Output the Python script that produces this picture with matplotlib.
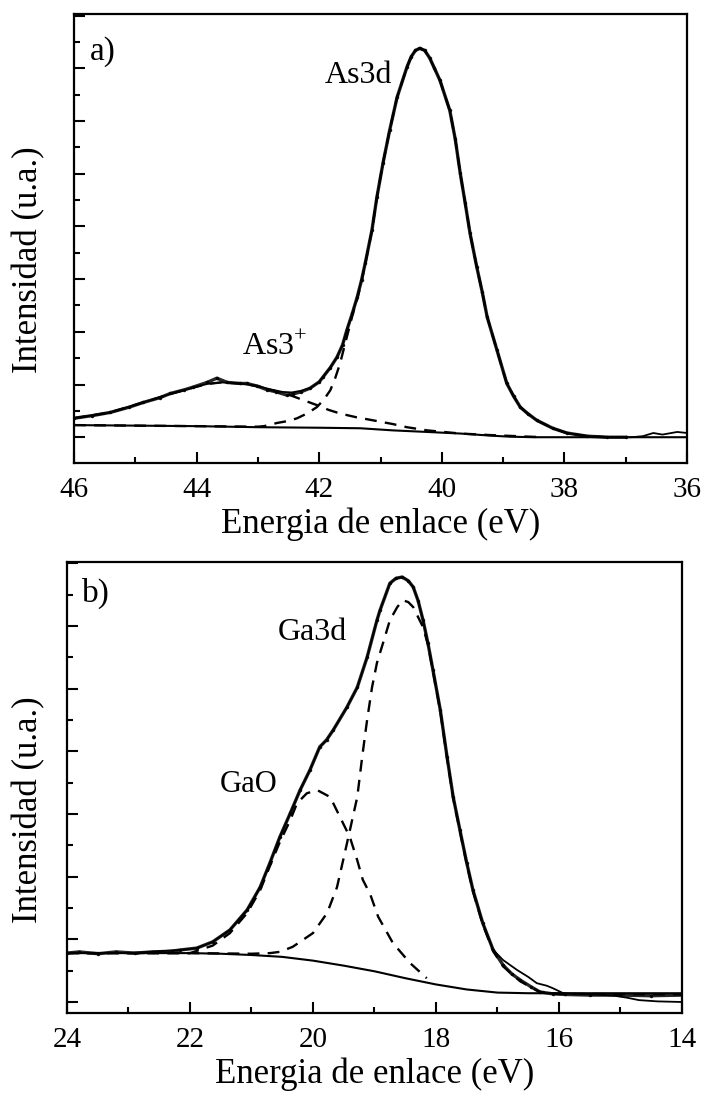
import matplotlib
matplotlib.use("Agg")
import matplotlib.pyplot as plt
from matplotlib.ticker import MultipleLocator, NullFormatter

plt.rcParams['font.family'] = ['Liberation Serif', 'DejaVu Serif']
plt.rcParams['mathtext.fontset'] = 'custom'
plt.rcParams['mathtext.rm'] = 'Liberation Serif'

# ---- panel a) As3d ----
as_data_x = [46.0, 45.7, 45.41, 45.1, 44.87, 44.6, 44.43, 44.2, 44.06, 43.83, 43.67, 43.5,
             43.29, 43.18, 43.01, 42.85, 42.7, 42.53, 42.43, 42.3, 42.15, 42.0, 41.94, 41.82,
             41.71, 41.62, 41.55, 41.46, 41.38, 41.31, 41.25, 41.14, 41.06, 40.96, 40.85, 40.73,
             40.57, 40.5, 40.43, 40.36, 40.28, 40.2, 40.12, 40.03, 39.87, 39.78, 39.7, 39.62,
             39.54, 39.43, 39.34, 39.26, 39.1, 38.94, 38.83, 38.72, 38.6, 38.45, 38.19, 37.96,
             37.63, 37.3, 37.0]
as_data_y = [0.36, 0.41, 0.47, 0.57, 0.66, 0.75, 0.83, 0.9, 0.95, 1.04, 1.12, 1.04,
             1.02, 1.02, 0.97, 0.9, 0.86, 0.8, 0.82, 0.86, 0.93, 1.05, 1.14, 1.32,
             1.52, 1.75, 2.03, 2.35, 2.66, 2.98, 3.3, 3.93, 4.55, 5.2, 5.83, 6.45,
             7.02, 7.22, 7.34, 7.38, 7.34, 7.2, 7.0, 6.77, 6.2, 5.65, 5.01, 4.45,
             3.87, 3.23, 2.75, 2.28, 1.65, 1.02, 0.78, 0.57, 0.45, 0.32, 0.17, 0.08,
             0.02, 0.0, 0.0]

as_fit_x = [46.0, 45.41, 44.87, 44.43, 44.06, 43.83, 43.6, 43.3, 43.0, 42.8, 42.6, 42.45,
            42.3, 42.15, 42.0, 41.9, 41.82, 41.71, 41.62, 41.55, 41.46, 41.38, 41.31, 41.25,
            41.14, 41.06, 40.96, 40.85, 40.73, 40.57, 40.5, 40.43, 40.36, 40.28, 40.2, 40.12,
            40.03, 39.87, 39.78, 39.7, 39.62, 39.54, 39.43, 39.34, 39.26, 39.1, 38.94, 38.83,
            38.72, 38.6, 38.45, 38.19, 37.96, 37.63, 37.2, 36.9, 36.72, 36.55, 36.4, 36.16, 36.0]
as_fit_y = [0.36, 0.47, 0.66, 0.82, 0.94, 1.01, 1.04, 1.02, 0.97, 0.91, 0.86, 0.85,
            0.88, 0.93, 1.05, 1.2, 1.32, 1.52, 1.75, 2.03, 2.35, 2.66, 2.98, 3.3,
            3.93, 4.55, 5.2, 5.83, 6.45, 7.02, 7.22, 7.34, 7.38, 7.34, 7.2, 7.0,
            6.77, 6.2, 5.65, 5.01, 4.45, 3.87, 3.23, 2.75, 2.28, 1.65, 1.02, 0.78,
            0.57, 0.45, 0.32, 0.17, 0.08, 0.02, 0.0, 0.0, 0.02, 0.08, 0.05, 0.1, 0.08]

as_bg_x = [46.0, 45.0, 44.0, 43.0, 42.0, 41.33, 40.8, 40.24, 39.7, 39.2, 38.89, 38.5, 36.0]
as_bg_y = [0.23, 0.22, 0.21, 0.19, 0.18, 0.17, 0.13, 0.10, 0.07, 0.03, 0.01, 0.0, 0.0]

as3d_x = [46.0, 44.0, 43.0, 42.9, 42.69, 42.5, 42.36, 42.2, 42.04, 41.92, 41.82, 41.74,
          41.66, 41.55, 41.45, 41.38, 41.31, 41.25, 41.14, 41.06, 40.96, 40.85, 40.73, 40.57,
          40.5, 40.43, 40.36, 40.28, 40.2, 40.12, 40.03, 39.87, 39.78, 39.7, 39.62, 39.54,
          39.43, 39.34, 39.26, 39.1, 38.94, 38.83, 38.72, 38.6, 38.45, 38.19, 37.96, 37.63, 37.3]
as3d_y = [0.23, 0.21, 0.2, 0.21, 0.27, 0.31, 0.36, 0.45, 0.57, 0.72, 0.89, 1.12,
          1.4, 1.9, 2.35, 2.62, 2.95, 3.28, 3.92, 4.55, 5.2, 5.83, 6.45, 7.02,
          7.22, 7.34, 7.38, 7.34, 7.2, 7.0, 6.77, 6.2, 5.65, 5.01, 4.45, 3.87,
          3.23, 2.75, 2.28, 1.65, 1.02, 0.78, 0.57, 0.45, 0.32, 0.17, 0.08, 0.02, 0.0]

as3p_x = [46.0, 45.41, 44.87, 44.43, 44.06, 43.83, 43.6, 43.3, 43.0, 42.8, 42.6, 42.48,
          42.25, 42.04, 41.85, 41.66, 41.4, 41.12, 40.8, 40.57, 40.24, 39.7, 39.2, 38.35]
as3p_y = [0.36, 0.47, 0.66, 0.82, 0.94, 1.01, 1.04, 1.02, 0.97, 0.9, 0.84, 0.8,
          0.7, 0.61, 0.52, 0.45, 0.38, 0.32, 0.25, 0.19, 0.13, 0.07, 0.04, 0.0]

# ---- panel b) Ga3d ----
ga_data_x = [24.0, 23.8, 23.5, 23.2, 22.9, 22.6, 22.3, 22.16, 21.89, 21.63, 21.35, 21.07,
             20.86, 20.7, 20.54, 20.37, 20.21, 20.05, 19.89, 19.78, 19.67, 19.45, 19.28, 19.12,
             18.96, 18.91, 18.75, 18.65, 18.55, 18.45, 18.37, 18.29, 18.21, 18.13, 18.05, 17.93,
             17.82, 17.72, 17.61, 17.5, 17.4, 17.24, 17.07, 16.91, 16.77, 16.63, 16.45, 16.31,
             16.1, 15.9, 15.5, 15.0, 14.5, 14.0]
ga_data_y = [0.78, 0.8, 0.77, 0.8, 0.78, 0.8, 0.81, 0.83, 0.86, 0.96, 1.15, 1.47,
             1.83, 2.22, 2.63, 3.01, 3.38, 3.7, 4.07, 4.18, 4.34, 4.7, 5.02, 5.5,
             6.09, 6.25, 6.68, 6.76, 6.78, 6.72, 6.62, 6.4, 6.09, 5.72, 5.3, 4.66,
             3.91, 3.27, 2.74, 2.22, 1.79, 1.26, 0.83, 0.59, 0.45, 0.35, 0.24, 0.16,
             0.13, 0.12, 0.11, 0.11, 0.1, 0.11]

ga_fit_x = [24.0, 23.0, 22.16, 21.89, 21.63, 21.35, 21.07, 20.86, 20.7, 20.54, 20.37, 20.21,
            20.05, 19.89, 19.78, 19.67, 19.45, 19.28, 19.12, 18.96, 18.91, 18.75, 18.65, 18.55,
            18.45, 18.37, 18.29, 18.21, 18.13, 18.05, 17.93, 17.82, 17.72, 17.61, 17.5, 17.4,
            17.24, 17.07, 16.91, 16.68, 16.5, 16.36, 16.2, 16.1, 15.93, 15.7, 15.4, 15.1,
            14.9, 14.7, 14.4, 14.0]
ga_fit_y = [0.78, 0.78, 0.83, 0.86, 0.96, 1.15, 1.47, 1.83, 2.22, 2.63, 3.01, 3.38,
            3.7, 4.07, 4.18, 4.34, 4.7, 5.02, 5.5, 6.09, 6.25, 6.68, 6.76, 6.78,
            6.72, 6.62, 6.4, 6.09, 5.72, 5.3, 4.66, 3.91, 3.27, 2.74, 2.22, 1.79,
            1.26, 0.83, 0.67, 0.51, 0.4, 0.3, 0.26, 0.22, 0.14, 0.13, 0.12, 0.1,
            0.07, 0.03, 0.01, 0.0]

ga_bg_x = [24.0, 22.0, 21.5, 21.0, 20.5, 20.0, 19.5, 19.0, 18.5, 18.0, 17.5, 17.0, 16.5, 14.0]
ga_bg_y = [0.78, 0.78, 0.77, 0.75, 0.72, 0.66, 0.58, 0.49, 0.38, 0.28, 0.2, 0.15, 0.14, 0.14]

ga3d_x = [24.0, 22.0, 21.0, 20.7, 20.54, 20.33, 20.0, 19.77, 19.61, 19.51, 19.4, 19.28,
          19.2, 19.12, 19.04, 18.96, 18.86, 18.75, 18.63, 18.54, 18.45, 18.37, 18.21, 18.13,
          18.05, 17.93, 17.82, 17.72, 17.61, 17.5, 17.4, 17.24, 17.07, 16.91, 16.63, 16.31,
          16.0, 14.0]
ga3d_y = [0.78, 0.78, 0.77, 0.78, 0.8, 0.88, 1.1, 1.42, 1.83, 2.26, 2.74, 3.27,
          3.91, 4.5, 5.02, 5.41, 5.73, 6.09, 6.3, 6.41, 6.38, 6.3, 5.98, 5.7,
          5.28, 4.64, 3.89, 3.25, 2.72, 2.2, 1.77, 1.24, 0.81, 0.57, 0.33, 0.16,
          0.13, 0.12]

gao_x = [24.0, 22.0, 21.63, 21.35, 21.07, 20.86, 20.7, 20.54, 20.37, 20.26, 20.1, 19.93,
         19.72, 19.56, 19.4, 19.28, 19.19, 19.07, 18.94, 18.7, 18.42, 18.15]
gao_y = [0.78, 0.78, 0.9, 1.1, 1.42, 1.78, 2.17, 2.55, 2.9, 3.17, 3.33, 3.38,
         3.27, 2.95, 2.63, 2.26, 1.95, 1.72, 1.36, 0.94, 0.62, 0.38]


fig = plt.figure(figsize=(7.11, 10.97), dpi=100)
ax1 = fig.add_axes([0.1041, 0.5779, 0.8622, 0.4093])
ax2 = fig.add_axes([0.0942, 0.0766, 0.865, 0.4111])


def style(ax, xlim, ylim):
    ax.set_xlim(*xlim)
    ax.set_ylim(*ylim)
    ax.xaxis.set_major_locator(MultipleLocator(2))
    ax.xaxis.set_minor_locator(MultipleLocator(1))
    ax.yaxis.set_major_locator(MultipleLocator(1))
    ax.yaxis.set_minor_locator(MultipleLocator(0.5))
    ax.yaxis.set_major_formatter(NullFormatter())
    ax.tick_params(which='both', direction='in', top=False, right=False, width=1.5)
    ax.tick_params(which='major', length=8, labelsize=21, pad=10)
    ax.tick_params(which='minor', length=4.5)
    for s in ax.spines.values():
        s.set_linewidth(1.6)
    ax.set_xlabel("Energia de enlace (eV)", fontsize=25, labelpad=3)
    ax.set_ylabel("Intensidad (u.a.)", fontsize=25)


def curves(ax, dx, dy, fx, fy, bx, by, comps):
    ax.plot(dx, dy, color='black', lw=2.4, marker='.', ms=3, alpha=0.85)
    ax.plot(fx, fy, color='black', lw=1.3)
    ax.plot(bx, by, color='black', lw=1.5)
    for cx, cy in comps:
        ax.plot(cx, cy, color='black', lw=1.7, ls=(0, (5, 3.5)))


curves(ax1, as_data_x, as_data_y, as_fit_x, as_fit_y, as_bg_x, as_bg_y,
       [(as3d_x, as3d_y), (as3p_x, as3p_y)])
style(ax1, (46, 36), (-0.49, 8.03))
ax1.yaxis.set_label_coords(-0.047, 0.452)
ax1.text(0.026, 0.95, "a)", transform=ax1.transAxes, fontsize=24, va='top', ha='left')
ax1.text(41.91, 6.72, "As3d", fontsize=23)
ax1.text(43.26, 1.56, "As3$^{+}$", fontsize=23)

curves(ax2, ga_data_x, ga_data_y, ga_fit_x, ga_fit_y, ga_bg_x, ga_bg_y,
       [(ga3d_x, ga3d_y), (gao_x, gao_y)])
style(ax2, (24, 14), (-0.175, 7.02))
ax2.yaxis.set_label_coords(-0.036, 0.45)
ax2.text(0.024, 0.965, "b)", transform=ax2.transAxes, fontsize=24, va='top', ha='left')
ax2.text(20.57, 5.77, "Ga3d", fontsize=23)
ax2.text(21.51, 3.35, "GaO", fontsize=22)

fig.savefig("out.png", dpi=100)
